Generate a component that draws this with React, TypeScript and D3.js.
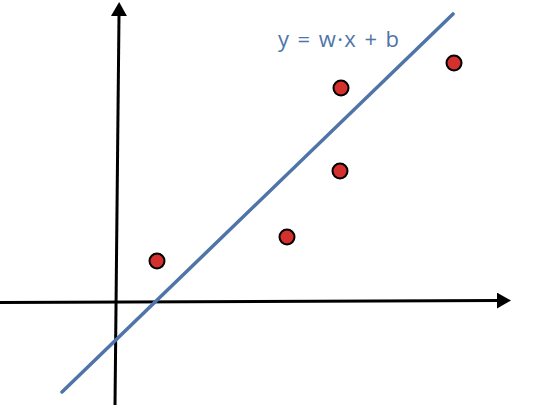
import React from "react";
import * as d3 from "d3";

// sample points (x, y) in chart units
const pointX = [2.0, 8.5, 11.15, 11.2, 16.85];
const pointY = [2.0, 3.2, 6.5, 10.65, 11.9];

// fitted line y = w*x + b
const w = 0.967;
const b = -1.89;
const lineX = [-2.75, 16.8];

// hand drawn axes (slightly tilted)
const xAxisPts: [number, number][] = [[-5.85, -0.08], [19.05, 0.02]];
const yAxisPts: [number, number][] = [[-0.1, -5.2], [0.1, 14.3]];

const label = "y = w·x + b";

const width = 554;
const height = 405;

export default function App() {
  const x = d3.scaleLinear().domain([-5.85, 21.85]).range([0, width]);
  const y = d3.scaleLinear().domain([-5.2, 15.05]).range([height, 0]);

  const path = d3.line<[number, number]>()
    .x((d) => x(d[0]))
    .y((d) => y(d[1]));

  const fit: [number, number][] = lineX.map((v) => [v, w * v + b]);

  return (
    <div style={{ position: "absolute", left: 0, top: 0 }}>
      <svg width={width} height={height} style={{ display: "block", background: "#fff" }}>
        <defs>
          <marker id="arrow" viewBox="0 0 14 16" refX="1" refY="8"
            markerWidth="14" markerHeight="16" markerUnits="userSpaceOnUse" orient="auto">
            <path d="M0,0 L14,8 L0,16 Z" fill="#000" />
          </marker>
        </defs>
        <path d={path(xAxisPts) ?? ""} stroke="#000" strokeWidth={3} fill="none" markerEnd="url(#arrow)" />
        <path d={path(yAxisPts) ?? ""} stroke="#000" strokeWidth={3} fill="none" markerEnd="url(#arrow)" />
        <path d={path(fit) ?? ""} stroke="#4f75a8" strokeWidth={3.5} strokeLinecap="round" fill="none" />
        {pointX.map((px, i) => (
          <circle key={i} cx={x(px)} cy={y(pointY[i])} r={7.5}
            fill="#d3302e" stroke="#000" strokeWidth={2} />
        ))}
        <text x={278} y={47} fill="#4f75a8" fontFamily="'Open Sans', sans-serif" fontSize={22}
          textLength={121} lengthAdjust="spacing">
          {label}
        </text>
      </svg>
    </div>
  );
}
